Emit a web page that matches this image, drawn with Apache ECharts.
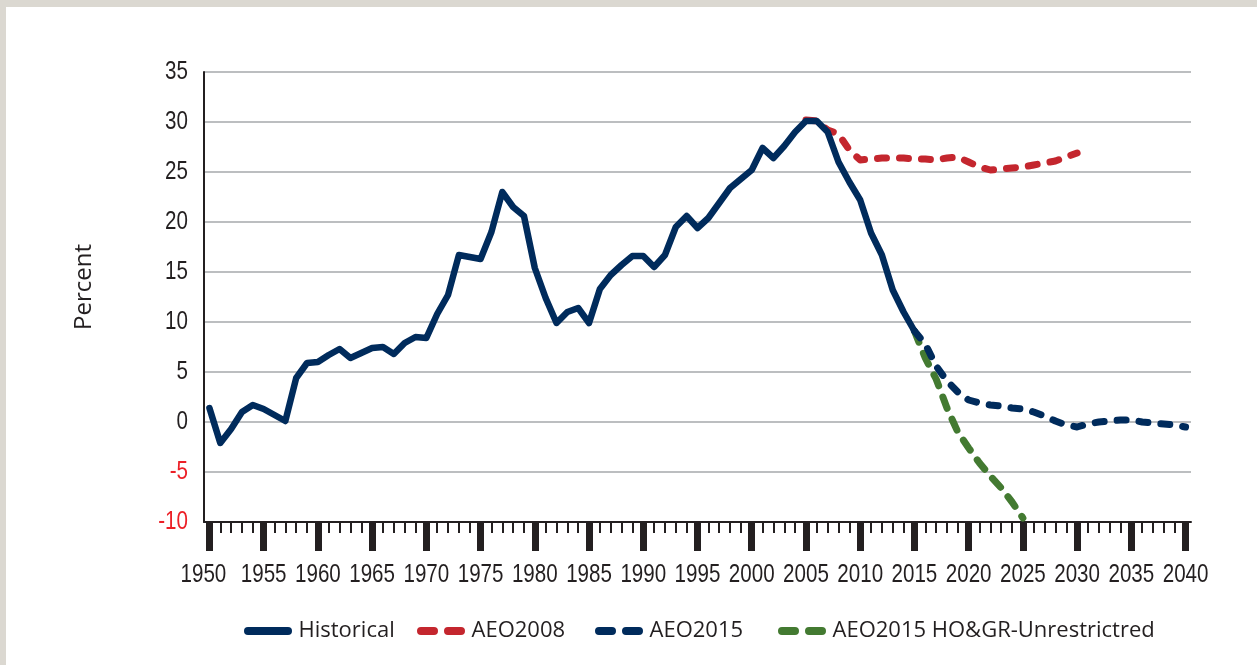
<!DOCTYPE html>
<html><head><meta charset="utf-8">
<script src="https://cdn.jsdelivr.net/npm/echarts@6/dist/echarts.min.js"></script>
<style>html,body{margin:0;padding:0;background:#fff}#c{width:1257px;height:665px}</style>
</head><body><div id="c"></div>
<script>
// ---- data ----
const firstYear = 1950;
const lastYear = 2040;
const years = [];
for (let y = firstYear; y <= lastYear; y++) years.push(String(y));

const seriesNames = ['Historical', 'AEO2008', 'AEO2015', 'AEO2015 HO&GR-Unrestrictred'];

// Historical 1950-2015
const historicalStart = 1950;
const historical = [
  1.4, -2.1, -0.7, 1.0, 1.7, 1.3, 0.7, 0.1, 4.4, 5.9,
  6.0, 6.7, 7.3, 6.4, 6.9, 7.4, 7.5, 6.8, 7.9, 8.5,
  8.4, 10.8, 12.7, 16.7, 16.5, 16.3, 19.0, 23.0, 21.5, 20.6,
  15.4, 12.4, 9.9, 11.0, 11.4, 9.9, 13.3, 14.7, 15.7, 16.6,
  16.6, 15.5, 16.7, 19.5, 20.6, 19.4, 20.4, 21.9, 23.4, 24.3,
  25.2, 27.4, 26.4, 27.6, 29.0, 30.1, 30.1, 29.0, 26.0, 24.0,
  22.2, 18.9, 16.7, 13.2, 11.0, 9.1
];

// AEO2008 2005-2030
const aeo2008Start = 2005;
const aeo2008 = [
  30.2, 30.1, 29.2, 28.8, 27.2, 26.2, 26.3, 26.4, 26.4, 26.4,
  26.3, 26.3, 26.2, 26.4, 26.5, 26.0, 25.5, 25.2, 25.3, 25.4,
  25.5, 25.7, 25.9, 26.1, 26.5, 26.9
];

// AEO2015 2015-2040
const aeo2015Start = 2015;
const aeo2015 = [
  9.1, 7.8, 5.6, 4.1, 3.0, 2.2, 1.9, 1.7, 1.6, 1.4,
  1.3, 1.0, 0.6, 0.1, -0.3, -0.5, -0.2, 0.0, 0.1, 0.2,
  0.2, 0.0, -0.1, -0.2, -0.3, -0.5
];

// AEO2015 HO&GR-Unrestrictred 2015-2025
const hogrStart = 2015;
const hogr = [9.1, 6.4, 4.3, 1.4, -1.0, -2.6, -4.1, -5.4, -6.6, -8.0, -9.6];

const yTicks = { min: -10, max: 35, step: 5 };

// ---- helpers ----
function pad(start, arr) {
  const out = years.map(() => null);
  arr.forEach((v, i) => { out[start - firstYear + i] = v; });
  return out;
}

const NAVY = '#002b5c', RED = '#c4262e', GREEN = '#437a31', INK = '#231f20';
const tickFont = "'Liberation Sans', Arial, sans-serif";
const legendFont = "'Open Sans', sans-serif";
const solidIcon = 'path://M4,0 H44 A4,4 0 0 1 44,8 H4 A4,4 0 0 1 4,0 Z';
const dashIcon = 'path://M4,0 H17 A4,4 0 0 1 17,8 H4 A4,4 0 0 1 4,0 Z M31,0 H44 A4,4 0 0 1 44,8 H31 A4,4 0 0 1 31,0 Z';
const legendIcons = [solidIcon, dashIcon, dashIcon, dashIcon];
const legendLefts = [244, 417, 595, 778];

const legends = seriesNames.map((name, i) => ({
  data: [{ name: name, icon: legendIcons[i] }],
  left: legendLefts[i], top: 620, padding: 0, itemWidth: 51, itemHeight: 8,
  selectedMode: false,
  itemStyle: { borderWidth: 0 },
  textStyle: { fontFamily: legendFont, fontSize: 22, color: INK }
}));

const chart = echarts.init(document.getElementById('c'), null, { renderer: 'canvas' });
chart.setOption({
  animation: false,
  backgroundColor: '#ffffff',
  graphic: [
    { type: 'rect', z: -10, shape: { x: 0, y: 0, width: 1257, height: 7 }, style: { fill: '#dbd8d1' } },
    { type: 'rect', z: -10, shape: { x: 0, y: 0, width: 6, height: 665 }, style: { fill: '#dbd8d1' } }
  ],
  grid: { left: 204, right: 66, top: 72, bottom: 143, containLabel: false },
  legend: legends,
  xAxis: [
    {
      type: 'category', data: years, boundaryGap: true, position: 'bottom',
      axisLine: { show: true, onZero: false, lineStyle: { color: INK, width: 2 } },
      axisTick: { show: true, interval: 0, alignWithLabel: true, length: 11, lineStyle: { color: INK, width: 2 } },
      axisLabel: {
        show: true, interval: 4, margin: 40, hideOverlap: false, showMinLabel: true, showMaxLabel: true,
        fontFamily: tickFont, fontSize: 21, color: INK
      },
      splitLine: { show: false }
    },
    {
      type: 'category', data: years, boundaryGap: true, position: 'bottom',
      axisLine: { show: false, onZero: false },
      axisTick: { show: true, interval: 4, alignWithLabel: true, length: 29, lineStyle: { color: INK, width: 7 } },
      axisLabel: { show: false },
      splitLine: { show: false }
    }
  ],
  yAxis: {
    type: 'value', min: yTicks.min, max: yTicks.max, interval: yTicks.step,
    axisLine: { show: true, lineStyle: { color: INK, width: 2 } },
    axisTick: { show: false },
    axisLabel: { margin: 16, fontFamily: tickFont, fontSize: 21, color: v => (v < 0 ? '#ec2027' : INK) },
    splitLine: { show: true, lineStyle: { color: '#bcbec0', width: 2 } },
    name: 'Percent', nameLocation: 'middle', nameGap: 108,
    nameTextStyle: { fontFamily: legendFont, fontSize: 24, color: INK, padding: [0, 0, 0, 20] }
  },
  series: [
    {
      name: seriesNames[3], type: 'line', data: pad(hogrStart, hogr), symbol: 'none', z: 2,
      itemStyle: { color: GREEN },
      lineStyle: { color: GREEN, width: 7, type: [12, 12], cap: 'round', join: 'round' }
    },
    {
      name: seriesNames[1], type: 'line', data: pad(aeo2008Start, aeo2008), symbol: 'none', z: 3,
      itemStyle: { color: RED },
      lineStyle: { color: RED, width: 7, type: [9, 13], cap: 'round', join: 'round' }
    },
    {
      name: seriesNames[2], type: 'line', data: pad(aeo2015Start, aeo2015), symbol: 'none', z: 4,
      itemStyle: { color: NAVY },
      lineStyle: { color: NAVY, width: 7, type: [9, 13], cap: 'round', join: 'round' }
    },
    {
      name: seriesNames[0], type: 'line', data: pad(historicalStart, historical), symbol: 'none', z: 5,
      itemStyle: { color: NAVY },
      lineStyle: { color: NAVY, width: 6.5, cap: 'round', join: 'round' }
    }
  ]
});

// Stretch the numeric tick labels vertically (the reference uses a tall condensed face).
try {
  const zr = chart.getZr();
  zr.storage.getDisplayList(true).forEach(el => {
    const t = el && el.style && el.style.text;
    if (typeof t === 'string' && /^-?\d+$/.test(t.trim())) {
      el.scaleY = 1.24;
      el.scaleX = 0.98;
      if (t.trim() === String(firstYear)) el.x = (el.x || 0) - 6;
      el.markRedraw();
    }
  });
  zr.refreshImmediately();
} catch (e) {}
</script>
</body></html>
